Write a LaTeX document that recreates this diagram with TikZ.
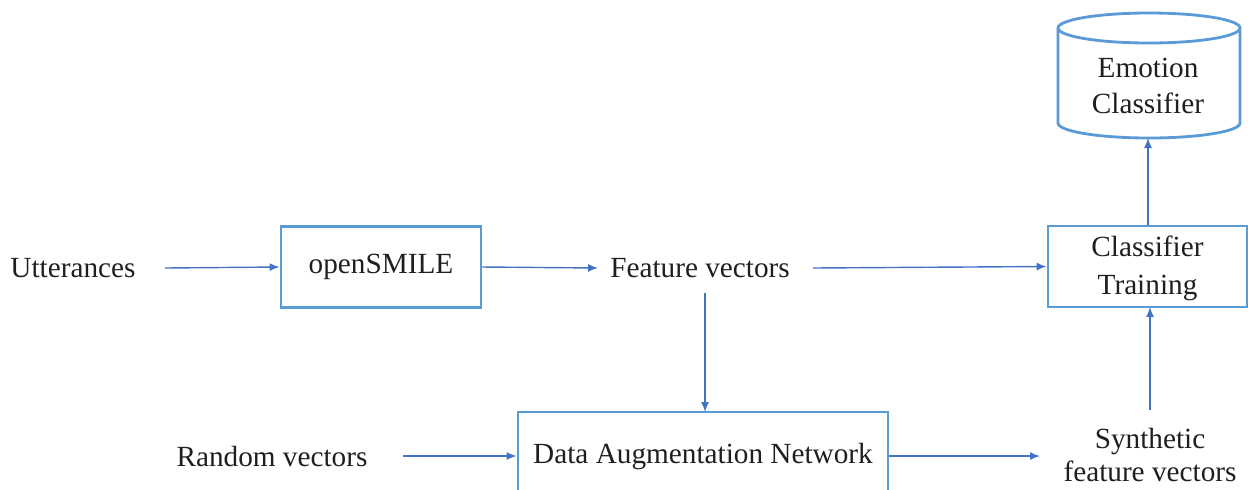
\documentclass[tikz,border=0pt]{standalone}
\usepackage{fontspec}
\newfontfamily\tnr{Liberation Serif}
\usetikzlibrary{arrows.meta}
\definecolor{boxblue}{HTML}{5B9BD5}
\definecolor{arrblue}{HTML}{4472C4}
\definecolor{txt}{HTML}{1F1F1F}
\tikzset{
  lbl/.style={font=\tnr\fontsize{20.8}{25}\selectfont, text=txt, align=center, inner sep=0pt},
  blockbox/.style={draw=boxblue, line width=2pt, minimum height=2.025cm},
  conn/.style={draw=arrblue, line width=1pt, -{Latex[length=0.25cm,width=0.2cm]}}
}
\begin{document}
\begin{tikzpicture}[x=0.025cm,y=-0.025cm]
\useasboundingbox (0,0) rectangle (1248,489);
% boxes
\node[blockbox, minimum width=5cm] (os) at (381,267) {};
\node[blockbox, minimum width=4.975cm] (ct) at (1147.5,266.5) {};
\node[blockbox, minimum width=9.25cm, minimum height=2.2cm] (dan) at (703,456) {};
% cylinder
\draw[boxblue, line width=2pt] (1058,28) -- (1058,123) arc[start angle=180,end angle=0,x radius=91,y radius=15] -- (1240,28);
\draw[boxblue, line width=2pt] (1149,28) ellipse [x radius=91, y radius=15];
\coordinate (ecb) at (1148,138);
% texts
\node[lbl] (utt) at (73,268) {Utterances};
\node[lbl] (ost) at (os.center) {openSMILE};
\node[lbl] (fv) at (700,268) {Feature vectors};
\node[lbl] (ctt) at (1147.5,268.5) {Classifier\\[2.5pt]Training};
\node[lbl] (rv) at (272,456) {Random vectors};
\node[lbl] (dant) at (dan.center) {Data Augmentation Network};
\node[lbl] (sfv) at (1150,455) {Synthetic\\[-1pt]feature vectors};
\node[lbl] (ec) at (1148,86) {Emotion\\[0pt]Classifier};
% connectors
\draw[conn] (165,268) -- (os.west);
\draw[conn] (os.east) -- (598,268);
\draw[conn] (813,268) -- (ct.west);
\draw[conn] (ct.north -| ecb) -- (ecb);
\draw[conn] (705,293) -- (705,412);
\draw[conn] (403,456) -- (dan.west);
\draw[conn] (dan.east) -- (1040,456);
\draw[conn] (1150,410) -- (1150,307);
\end{tikzpicture}
\end{document}
